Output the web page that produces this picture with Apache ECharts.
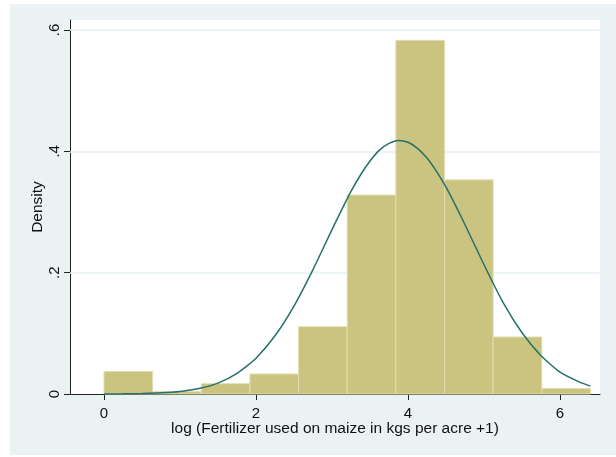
<!DOCTYPE html>
<html><head><meta charset="utf-8">
<script src="https://cdn.jsdelivr.net/npm/echarts@6/dist/echarts.min.js"></script>
<style>
html,body{margin:0;padding:0;background:#fff;}
#bg{position:absolute;left:10px;top:4px;width:606px;height:451px;background:#EAF2F3;}
#chart{position:absolute;left:0;top:0;width:616px;height:457px;}
</style></head>
<body><div id="bg"></div><div id="chart"></div>
<script>
// Histogram bins (log fertilizer), density heights
const binEdges = [0, 0.64, 1.28, 1.92, 2.56, 3.2, 3.84, 4.48, 5.12, 5.76, 6.4];
const densities = [0.037, 0.004, 0.017, 0.033, 0.111, 0.328, 0.583, 0.353, 0.094, 0.009];
// Overlaid normal density curve
const curveX = [0, 0.25, 0.5, 0.75, 1.0, 1.25, 1.5, 1.75, 2.0, 2.25, 2.5, 2.75, 3.0, 3.125, 3.25, 3.375, 3.5, 3.625, 3.75, 3.875, 4.0, 4.125, 4.25, 4.375, 4.5, 4.625, 4.75, 5.0, 5.25, 5.5, 5.75, 6.0, 6.25, 6.4];
const curveY = [0.0001, 0.0003, 0.0008, 0.0019, 0.0043, 0.0092, 0.018, 0.034, 0.059, 0.096, 0.145, 0.205, 0.271, 0.303, 0.334, 0.361, 0.384, 0.402, 0.413, 0.418, 0.415, 0.405, 0.389, 0.367, 0.341, 0.311, 0.279, 0.213, 0.151, 0.101, 0.063, 0.036, 0.020, 0.013];
const xTickValues = [0, 2, 4, 6];
const xTickLabels = ['0', '2', '4', '6'];
const yTickValues = [0, 0.2, 0.4, 0.6];
const yTickLabels = ['0', '.2', '.4', '.6'];
const gridLineValues = [0.2, 0.4, 0.6];
const xTitle = 'log (Fertilizer used on maize in kgs per acre +1)';
const yTitle = 'Density';

const FONT = "'Liberation Sans', Arial, sans-serif";
const chart = echarts.init(document.getElementById('chart'), null, {renderer: 'canvas'});

const histData = densities.map((d, i) => [binEdges[i], binEdges[i + 1], d]);
const curveData = curveX.map((x, i) => [x, curveY[i]]);

chart.setOption({
  backgroundColor: 'transparent',
  animation: false,
  grid: {left: 70, right: 16, top: 20, bottom: 63, show: true, backgroundColor: '#fff', borderWidth: 0},
  xAxis: {
    type: 'value', min: -0.447, max: 6.526,
    name: xTitle, nameLocation: 'middle', nameGap: 27, nameMoveOverlap: false,
    nameTextStyle: {fontFamily: FONT, fontSize: 15.5, color: '#111'},
    axisLine: {show: true, onZero: false, lineStyle: {color: '#222', width: 1}},
    axisTick: {show: true, length: 6, customValues: xTickValues, lineStyle: {color: '#222'}},
    axisLabel: {customValues: xTickValues, formatter: v => xTickLabels[xTickValues.indexOf(v)] ?? '',
      fontFamily: FONT, fontSize: 15, color: '#111', margin: 12},
    splitLine: {show: false}
  },
  yAxis: {
    type: 'value', min: 0, max: 0.6165,
    name: yTitle, nameLocation: 'middle', nameGap: 24, nameMoveOverlap: false,
    nameTextStyle: {fontFamily: FONT, fontSize: 15.5, color: '#111'},
    axisLine: {show: true, onZero: false, lineStyle: {color: '#222', width: 1}},
    axisTick: {show: true, length: 6, customValues: yTickValues, lineStyle: {color: '#222'}},
    axisLabel: {customValues: yTickValues, rotate: 90, formatter: v => yTickLabels[yTickValues.findIndex(t => Math.abs(t - v) < 1e-9)] ?? '',
      fontFamily: FONT, fontSize: 15, color: '#111', margin: 8},
    splitLine: {show: false}
  },
  series: [
    {
      type: 'line', data: [], z: 1, silent: true,
      markLine: {silent: true, z: 1, symbol: 'none', label: {show: false},
        lineStyle: {color: '#E6F0F1', width: 1.5, type: 'solid'},
        data: gridLineValues.map(v => ({yAxis: v}))}
    },
    {
      type: 'custom', z: 2, data: histData,
      encode: {x: [0, 1], y: 2},
      renderItem: function (params, api) {
        const p0 = api.coord([api.value(0), 0]);
        const p1 = api.coord([api.value(1), api.value(2)]);
        return {
          type: 'rect',
          shape: {x: p0[0], y: p1[1], width: p1[0] - p0[0], height: p0[1] - p1[1]},
          style: {fill: '#CBC380', stroke: '#E2DDB2', lineWidth: 1}
        };
      }
    },
    {
      type: 'line', z: 3, data: curveData, smooth: 0.2, showSymbol: false,
      lineStyle: {color: '#24706B', width: 1.5}
    }
  ]
});
</script>
</body></html>
